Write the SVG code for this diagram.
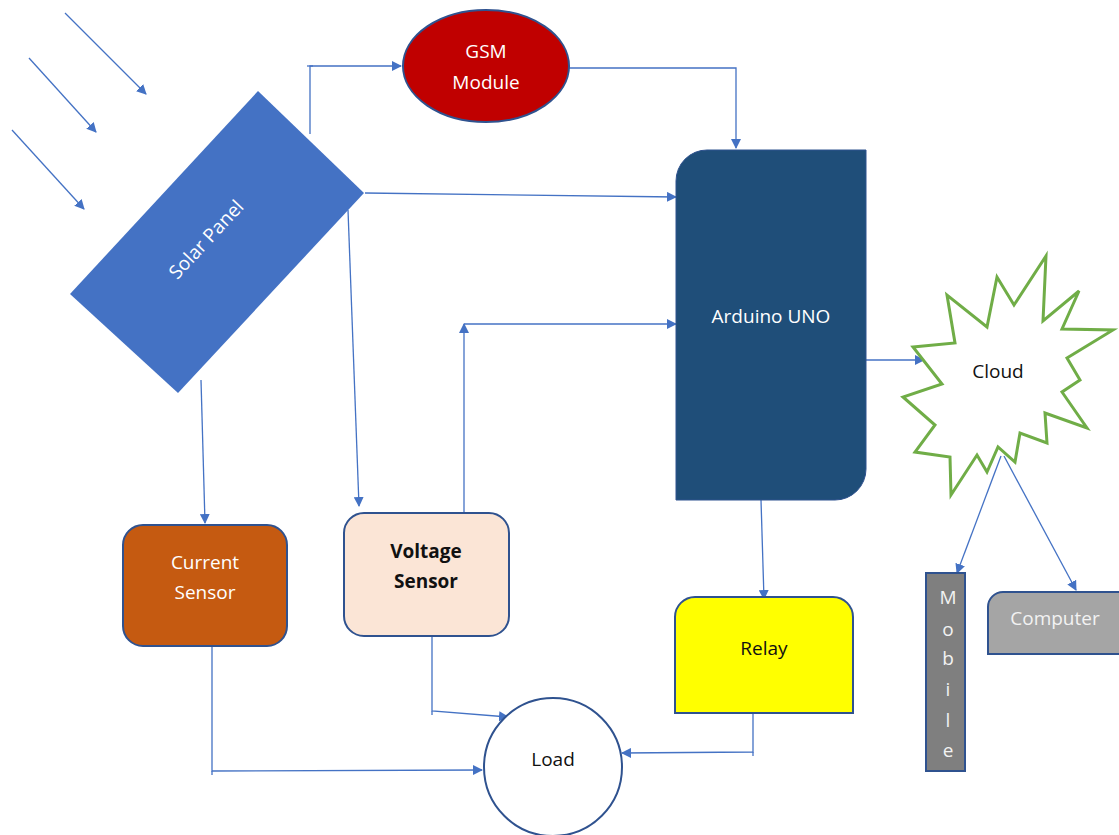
<svg xmlns="http://www.w3.org/2000/svg" width="1119" height="835" viewBox="0 0 1119 835">
<defs>
<marker id="ah" viewBox="0 0 10 10" refX="9" refY="5" markerWidth="10" markerHeight="10" markerUnits="userSpaceOnUse" orient="auto">
<path d="M0,0 L10,5 L0,10 z" fill="#4472C4"/>
</marker>
<style>
.c{fill:none;stroke:#4472C4;stroke-width:1.3}
.a{marker-end:url(#ah)}
.t{font-family:"Open Sans","Noto Sans",sans-serif;font-size:19px;text-anchor:middle}
.w{fill:#FFFFFF}
.k{fill:#111111}
.ns{stroke:#2F528F;stroke-width:2}
</style>
</defs>
<rect width="1119" height="835" fill="#FFFFFF"/>
<g id="connectors">
<line class="c a" x1="65" y1="13" x2="146" y2="94"/>
<line class="c a" x1="29" y1="58" x2="96" y2="132"/>
<line class="c a" x1="12" y1="130" x2="84" y2="209"/>
<polyline class="c a" points="310,134 310,66 401,66"/>
<line class="c" x1="307" y1="66" x2="313" y2="66"/>
<polyline class="c a" points="569,68 736,68 736,148"/>
<line class="c a" x1="365" y1="193" x2="676" y2="197"/>
<line class="c a" x1="464" y1="513" x2="464" y2="324"/>
<line class="c a" x1="464" y1="324" x2="676" y2="324"/>
<line class="c a" x1="866" y1="360" x2="924" y2="360"/>
<line class="c a" x1="761" y1="500" x2="764" y2="599"/>
<line class="c a" x1="201" y1="380" x2="205" y2="523"/>
<line class="c a" x1="348" y1="210" x2="359" y2="506"/>
<polyline class="c a" points="212,646 212,771 482,770"/>
<line class="c" x1="212" y1="771" x2="212" y2="775"/>
<polyline class="c a" points="432,636 432,711 508,717"/>
<line class="c" x1="432" y1="711" x2="432" y2="715"/>
<polyline class="c a" points="753,713 753,752 622,753"/>
<line class="c" x1="753" y1="752" x2="753" y2="756"/>
<line class="c a" x1="1001" y1="456" x2="957" y2="573"/>
<line class="c a" x1="1004" y1="456" x2="1076" y2="590"/>
</g>
<g id="solar-panel">
<polygon points="258,91 364,193 178,393 70,294" fill="#4472C4"/>
<text class="t w" transform="translate(211,244) rotate(-47)">Solar Panel</text>
</g>
<g id="gsm-module">
<ellipse cx="486" cy="66" rx="83" ry="56" fill="#C00000" class="ns"/>
<text class="t w" x="486" y="58">GSM</text>
<text class="t w" x="486" y="89">Module</text>
</g>
<g id="arduino-uno">
<path d="M707,150 H866 V469 A31,31 0 0 1 835,500 H676 V181 A31,31 0 0 1 707,150 Z" fill="#1F4E79" stroke="#2F528F" stroke-width="1"/>
<text class="t w" x="771" y="323">Arduino UNO</text>
</g>
<g id="cloud">
<polygon points="1046,256 1043,321 1079,291 1062,329 1113,330 1067,358 1080,380 1062,392 1087,428 1045,413 1047,443 1020,433 1015,462 998,447 987,472 977,455 951,495 950,457 915,452 935,425 903,397 942,384 913,347 955,343 947,295 987,327 997,277 1014,305" fill="#FFFFFF" stroke="#70AD47" stroke-width="3" stroke-linejoin="miter"/>
<text class="t k" x="998" y="378">Cloud</text>
</g>
<g id="current-sensor">
<rect x="123" y="525" width="164" height="121" rx="20" fill="#C55A11" class="ns"/>
<text class="t w" x="205" y="569">Current</text>
<text class="t w" x="205" y="599">Sensor</text>
</g>
<g id="voltage-sensor">
<rect x="344" y="513" width="165" height="123" rx="20" fill="#FBE5D6" class="ns"/>
<text class="t k" x="426" y="558" font-weight="bold">Voltage</text>
<text class="t k" x="426" y="588" font-weight="bold">Sensor</text>
</g>
<g id="relay">
<path d="M695,597 H833 A20,20 0 0 1 853,617 V713 H675 V617 A20,20 0 0 1 695,597 Z" fill="#FFFF00" class="ns"/>
<text class="t k" x="764" y="655">Relay</text>
</g>
<g id="load">
<circle cx="553" cy="767" r="69" fill="#FFFFFF" class="ns"/>
<text class="t k" x="553" y="766">Load</text>
</g>
<g id="mobile">
<rect x="926" y="573" width="39" height="198" fill="#7F7F7F" class="ns"/>
<g class="t" fill="#F2F2F2">
<text x="948" y="604">M</text>
<text x="948" y="636">o</text>
<text x="948" y="665">b</text>
<text x="948" y="696">i</text>
<text x="948" y="727">l</text>
<text x="948" y="757">e</text>
</g>
</g>
<g id="computer">
<path d="M1003,592 H1124 V654 H988 V607 A15,15 0 0 1 1003,592 Z" fill="#A5A5A5" class="ns"/>
<text class="t" fill="#F2F2F2" x="1055" y="625">Computer</text>
</g>
</svg>
